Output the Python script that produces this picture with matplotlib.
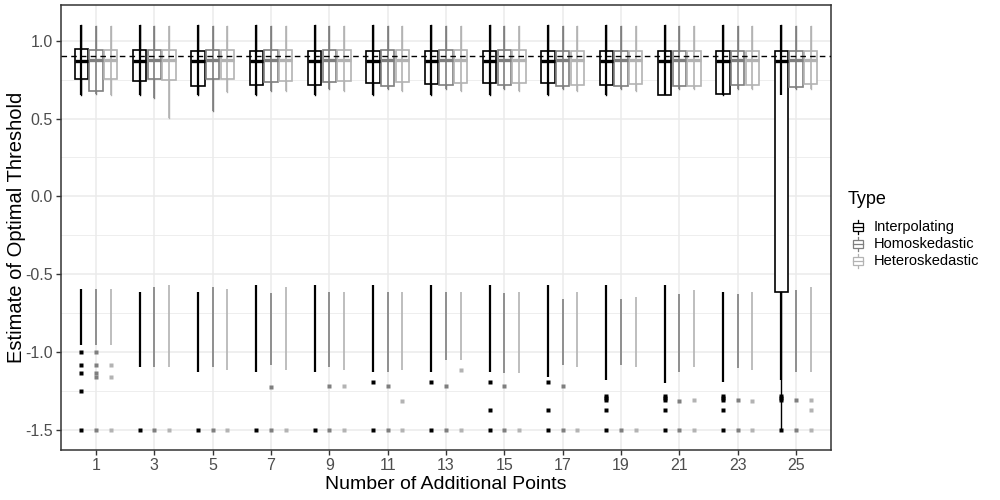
import matplotlib.pyplot as plt
from matplotlib.patches import Rectangle
from matplotlib.ticker import MultipleLocator

plt.rcParams['font.family'] = ['Liberation Sans', 'DejaVu Sans']

# --- data ---
x_labels = ['1', '3', '5', '7', '9', '11', '13', '15', '17', '19', '21', '23', '25']
types = ['Interpolating', 'Homoskedastic', 'Heteroskedastic']
colors = ['#000000', '#7F7F7F', '#B3B3B3']
optimal = 0.9

# Interpolating
interp_q1 = [0.754, 0.743, 0.707, 0.718, 0.718, 0.729, 0.725, 0.729, 0.729, 0.718, 0.654, 0.660, -0.617]
interp_med = [0.872, 0.872, 0.870, 0.868, 0.868, 0.872, 0.872, 0.872, 0.872, 0.872, 0.872, 0.872, 0.872]
interp_q3 = [0.945, 0.938, 0.937, 0.937, 0.937, 0.937, 0.937, 0.937, 0.937, 0.937, 0.932, 0.932, 0.932]
interp_lo = [0.654, 0.654, 0.654, 0.654, 0.654, 0.654, 0.654, 0.654, 0.654, 0.654, 0.650, 0.650, -1.500]
interp_hi = [1.10] * 13
interp_up_min = [0.654, 0.654, 0.654, 0.654, 0.654, 0.654, 0.654, 0.654, 0.654, 0.654, 0.650, 0.650, 0.650]
interp_run_top = [-0.595, -0.616, -0.616, -0.569, -0.569, -0.569, -0.569, -0.569, -0.569, -0.569, -0.569, -0.612, -0.612]
interp_run_bot = [-0.954, -1.094, -1.126, -1.126, -1.126, -1.126, -1.126, -1.126, -1.158, -1.179, -1.200, -1.190, -1.179]
interp_extra = [
    [-0.997, -1.083, -1.136, -1.248, -1.5],
    [-1.5], [-1.5], [-1.5], [-1.5],
    [-1.190, -1.5], [-1.190, -1.5], [-1.190, -1.372, -1.5], [-1.190, -1.372, -1.5],
    [-1.282, -1.295, -1.308, -1.372, -1.5], [-1.282, -1.295, -1.308, -1.372, -1.5],
    [-1.282, -1.295, -1.308, -1.372, -1.5], [-1.282, -1.295, -1.308, -1.5],
]

# Homoskedastic
homo_q1 = [0.678, 0.756, 0.754, 0.733, 0.733, 0.711, 0.718, 0.718, 0.707, 0.711, 0.711, 0.718, 0.700]
homo_med = [0.878] * 13
homo_q3 = [0.940, 0.940, 0.940, 0.940, 0.940, 0.940, 0.940, 0.940, 0.932, 0.932, 0.937, 0.937, 0.937]
homo_lo = [0.660, 0.630, 0.547, 0.675, 0.690, 0.690, 0.690, 0.690, 0.690, 0.690, 0.690, 0.690, 0.690]
homo_hi = [1.095] * 13
homo_run_top = [-0.595, -0.580, -0.580, -0.622, -0.616, -0.616, -0.616, -0.622, -0.659, -0.659, -0.627, -0.627, -0.601]
homo_run_bot = [-0.954, -1.094, -1.094, -1.083, -1.094, -1.126, -1.051, -1.136, -1.083, -1.083, -1.126, -1.104, -1.126]
homo_extra = [
    [-0.997, -1.083, -1.136, -1.158, -1.5],
    [-1.5], [-1.5], [-1.222, -1.5], [-1.218, -1.5], [-1.218, -1.5], [-1.218, -1.5],
    [-1.218, -1.5], [-1.218, -1.5], [-1.5], [-1.318, -1.5], [-1.308, -1.5], [-1.308, -1.5],
]

# Heteroskedastic
hetero_q1 = [0.754, 0.748, 0.754, 0.740, 0.740, 0.733, 0.729, 0.729, 0.718, 0.720, 0.711, 0.718, 0.725]
hetero_med = [0.875] * 13
hetero_q3 = [0.940, 0.940, 0.940, 0.940, 0.940, 0.940, 0.940, 0.940, 0.937, 0.937, 0.937, 0.937, 0.937]
hetero_lo = [0.654, 0.506, 0.670, 0.680, 0.680, 0.680, 0.680, 0.680, 0.680, 0.680, 0.690, 0.690, 0.690]
hetero_hi = [1.095] * 13
hetero_run_top = [-0.595, -0.569, -0.595, -0.580, -0.616, -0.616, -0.616, -0.616, -0.616, -0.644, -0.601, -0.616, -0.585]
hetero_run_bot = [-0.954, -1.094, -1.115, -1.115, -1.115, -1.115, -1.051, -1.136, -1.094, -1.094, -1.094, -1.115, -1.126]
hetero_extra = [
    [-1.083, -1.158, -1.5],
    [-1.5], [-1.5], [-1.5], [-1.218, -1.5], [-1.312, -1.5], [-1.115, -1.5],
    [-1.5], [-1.5], [-1.5], [-1.308, -1.5], [-1.312, -1.5], [-1.308, -1.372, -1.5],
]

series = [
    (interp_q1, interp_med, interp_q3, interp_lo, interp_hi, interp_up_min,
     interp_run_top, interp_run_bot, interp_extra),
    (homo_q1, homo_med, homo_q3, homo_lo, homo_hi, homo_lo,
     homo_run_top, homo_run_bot, homo_extra),
    (hetero_q1, hetero_med, hetero_q3, hetero_lo, hetero_hi, hetero_lo,
     hetero_run_top, hetero_run_bot, hetero_extra),
]

# --- plot ---
fig = plt.figure(figsize=(10, 5), dpi=100)
ax = fig.add_axes([0.061, 0.10, 0.770, 0.89])

offsets = [-0.25, 0.0, 0.25]
box_w = 0.23
pt_lw = [1.6, 1.2, 1.2]
n = len(x_labels)

for k, (q1, med, q3, lo, hi, up_min, rtop, rbot, extra) in enumerate(series):
    col = colors[k]
    pos = [i + offsets[k] for i in range(n)]
    stats = [dict(q1=q1[i], med=med[i], q3=q3[i], whislo=lo[i], whishi=hi[i], fliers=[])
             for i in range(n)]
    ax.bxp(stats, positions=pos, widths=box_w, showcaps=False, showfliers=False,
           patch_artist=True, manage_ticks=False,
           boxprops=dict(facecolor='white', edgecolor=col, linewidth=1.2),
           medianprops=dict(color=col, linewidth=2.4, solid_capstyle='butt'),
           whiskerprops=dict(color=col, linewidth=1.0))
    # the raw points: upper cluster and lower cluster
    ax.vlines(pos, up_min, hi, colors=col, linewidth=pt_lw[k], zorder=3)
    ax.vlines(pos, rbot, rtop, colors=col, linewidth=pt_lw[k], zorder=3)
    for p, ys in zip(pos, extra):
        ax.plot([p] * len(ys), ys, 's', ms=2.2, color=col, mec='none', zorder=3)

ax.axhline(optimal, color='black', linewidth=1.0, linestyle=(0, (4, 3)), zorder=4)

ax.set_xlim(-0.6, n - 1 + 0.6)
ax.set_xticks(range(n))
ax.set_xticklabels(x_labels)
ax.yaxis.set_major_locator(MultipleLocator(0.5))
ax.yaxis.set_minor_locator(MultipleLocator(0.25))
ax.set_ylim(-1.63, 1.23)
ax.set_yticks([-1.5, -1.0, -0.5, 0.0, 0.5, 1.0])
ax.set_yticklabels(['-1.5', '-1.0', '-0.5', '0.0', '0.5', '1.0'])

ax.grid(True, which='major', color='#EBEBEB', linewidth=1.1)
ax.grid(True, which='minor', axis='y', color='#EBEBEB', linewidth=0.6)
ax.set_axisbelow(True)
ax.tick_params(which='major', length=3.5, width=1, color='#333333', pad=2.5,
               labelsize=11.5, labelcolor='#4D4D4D')
ax.tick_params(which='minor', length=0)
for s in ax.spines.values():
    s.set_color('#333333')
    s.set_linewidth(1.1)

ax.set_xlabel('Number of Additional Points', fontsize=14, labelpad=2)
ax.set_ylabel('Estimate of Optimal Threshold', fontsize=14.5)
ax.yaxis.set_label_coords(-0.046, 0.5)

# --- legend drawn in pixel coordinates ---
lax = fig.add_axes([0, 0, 1, 1])
lax.set_xlim(0, 1000)
lax.set_ylim(500, 0)
lax.axis('off')
lax.text(848, 200, 'Type', fontsize=13, va='center', ha='left')
key_y = [227, 244, 261]
for k, name in enumerate(types):
    cx, cy = 858, key_y[k]
    lax.plot([cx, cx], [cy - 7, cy + 7], color=colors[k], linewidth=0.9, zorder=1)
    lax.add_patch(Rectangle((cx - 5, cy - 4), 10, 8, facecolor='white',
                            edgecolor=colors[k], linewidth=0.9, zorder=2))
    lax.plot([cx - 5, cx + 5], [cy, cy], color=colors[k], linewidth=0.9, zorder=3)
    lax.text(874, cy, name, fontsize=10.5, va='center', ha='left')

fig.savefig('out.png', dpi=100)
